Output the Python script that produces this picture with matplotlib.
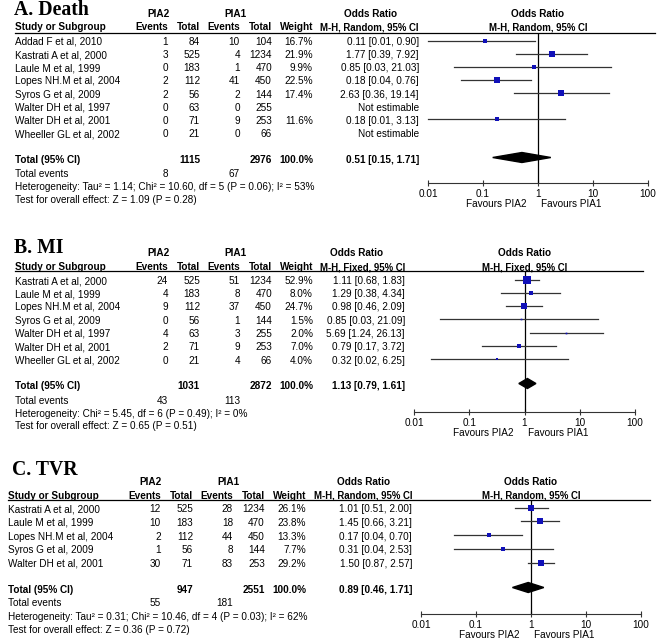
import numpy as np
import matplotlib
matplotlib.use("Agg")
import matplotlib.pyplot as plt

plt.rcParams['font.family'] = ['Liberation Sans', 'DejaVu Sans']

# region data
# A. Death
death_studies = ["Addad F et al, 2010", "Kastrati A et al, 2000", "Laule M et al, 1999",
                 "Lopes NH.M et al, 2004", "Syros G et al, 2009", "Walter DH et al, 1997",
                 "Walter DH et al, 2001", "Wheeller GL et al, 2002"]
death_e2 = [1, 3, 0, 2, 2, 0, 0, 0]
death_n2 = [84, 525, 183, 112, 56, 63, 71, 21]
death_e1 = [10, 4, 1, 41, 2, 0, 9, 0]
death_n1 = [104, 1234, 470, 450, 144, 255, 253, 66]
death_w = [16.7, 21.9, 9.9, 22.5, 17.4, np.nan, 11.6, np.nan]
death_or = [0.11, 1.77, 0.85, 0.18, 2.63, np.nan, 0.18, np.nan]
death_lo = [0.01, 0.39, 0.03, 0.04, 0.36, np.nan, 0.01, np.nan]
death_hi = [0.90, 7.92, 21.03, 0.76, 19.14, np.nan, 3.13, np.nan]
death_total = [0.51, 0.15, 1.71]
death_het = "Heterogeneity: Tau\u00b2 = 1.14; Chi\u00b2 = 10.60, df = 5 (P = 0.06); I\u00b2 = 53%"
death_test = "Test for overall effect: Z = 1.09 (P = 0.28)"

# B. MI
mi_studies = ["Kastrati A et al, 2000", "Laule M et al, 1999", "Lopes NH.M et al, 2004",
              "Syros G et al, 2009", "Walter DH et al, 1997", "Walter DH et al, 2001",
              "Wheeller GL et al, 2002"]
mi_e2 = [24, 4, 9, 0, 4, 2, 0]
mi_n2 = [525, 183, 112, 56, 63, 71, 21]
mi_e1 = [51, 8, 37, 1, 3, 9, 4]
mi_n1 = [1234, 470, 450, 144, 255, 253, 66]
mi_w = [52.9, 8.0, 24.7, 1.5, 2.0, 7.0, 4.0]
mi_or = [1.11, 1.29, 0.98, 0.85, 5.69, 0.79, 0.32]
mi_lo = [0.68, 0.38, 0.46, 0.03, 1.24, 0.17, 0.02]
mi_hi = [1.83, 4.34, 2.09, 21.09, 26.13, 3.72, 6.25]
mi_total = [1.13, 0.79, 1.61]
mi_het = "Heterogeneity: Chi\u00b2 = 5.45, df = 6 (P = 0.49); I\u00b2 = 0%"
mi_test = "Test for overall effect: Z = 0.65 (P = 0.51)"

# C. TVR
tvr_studies = ["Kastrati A et al, 2000", "Laule M et al, 1999", "Lopes NH.M et al, 2004",
               "Syros G et al, 2009", "Walter DH et al, 2001"]
tvr_e2 = [12, 10, 2, 1, 30]
tvr_n2 = [525, 183, 112, 56, 71]
tvr_e1 = [28, 18, 44, 8, 83]
tvr_n1 = [1234, 470, 450, 144, 253]
tvr_w = [26.1, 23.8, 13.3, 7.7, 29.2]
tvr_or = [1.01, 1.45, 0.17, 0.31, 1.50]
tvr_lo = [0.51, 0.66, 0.04, 0.04, 0.87]
tvr_hi = [2.00, 3.21, 0.70, 2.53, 2.57]
tvr_total = [0.89, 0.46, 1.71]
tvr_het = "Heterogeneity: Tau\u00b2 = 0.31; Chi\u00b2 = 10.46, df = 4 (P = 0.03); I\u00b2 = 62%"
tvr_test = "Test for overall effect: Z = 0.36 (P = 0.72)"

tick_vals = [0.01, 0.1, 1, 10, 100]
tick_labels = ["0.01", "0.1", "1", "10", "100"]
# endregion

W, H = 658, 640
FS = 7.2
BLUE = '#1010b8'
GREY = '#333333'

fig = plt.figure(figsize=(W / 100, H / 100), dpi=100)
bg = fig.add_axes([0, 0, 1, 1])
bg.set_xlim(0, W)
bg.set_ylim(H, 0)
bg.axis('off')


def txt(x, y, s, ha='left', bold=False, size=FS, **kw):
    bg.text(x, y, s, ha=ha, va='center', fontsize=size,
            fontweight='bold' if bold else 'normal', **kw)


def draw_panel(title, studies, e2, n2, e1, n1, w, orr, lo, hi, total, het, test, method, L):
    n = len(studies)
    rows = [L['row0'] + i * L['step'] for i in range(n)]
    c_e2, c_n2, c_e1, c_n1, c_w = L['cols']

    # title sits on its baseline so it does not get cut at the top edge
    bg.text(L['title_x'], L['title_y'], title, fontsize=14.2, fontweight='bold',
            family='Liberation Serif', va='baseline', ha='left')

    # headers
    txt(c_e2 - 10, L['h1'], "PIA2", 'center', True)
    txt(c_e1 - 5, L['h1'], "PIA1", 'center', True)
    txt(L['sx'], L['h2'], "Study or Subgroup", bold=True)
    txt(c_e2, L['h2'], "Events", 'right', True)
    txt(c_n2, L['h2'], "Total", 'right', True)
    txt(c_e1, L['h2'], "Events", 'right', True)
    txt(c_n1, L['h2'], "Total", 'right', True)
    txt(c_w, L['h2'], "Weight", 'right', True)
    hdr = "M-H, %s, 95%% CI" % method
    txt(L['orx'] - 48, L['h1'], "Odds Ratio", 'center', True)
    txt(L['orx'], L['h2'], hdr, 'right', True, size=6.9)
    bg.plot([L['lx0'], L['lx1']], [L['line'], L['line']], color='black', lw=0.9)

    # study rows
    for i in range(n):
        y = rows[i]
        txt(L['sx'], y, studies[i])
        txt(c_e2, y, str(e2[i]), 'right')
        txt(c_n2, y, str(n2[i]), 'right')
        txt(c_e1, y, str(e1[i]), 'right')
        txt(c_n1, y, str(n1[i]), 'right')
        if np.isnan(orr[i]):
            txt(L['orx'], y, "Not estimable", 'right')
        else:
            txt(c_w, y, "%.1f%%" % w[i], 'right')
            txt(L['orx'], y, "%.2f [%.2f, %.2f]" % (orr[i], lo[i], hi[i]), 'right')

    # totals
    txt(L['sx'], L['tot'], "Total (95% CI)", bold=True)
    txt(c_n2, L['tot'], str(sum(n2)), 'right', True)
    txt(c_n1, L['tot'], str(sum(n1)), 'right', True)
    txt(c_w, L['tot'], "100.0%", 'right', True)
    txt(L['orx'], L['tot'], "%.2f [%.2f, %.2f]" % tuple(total), 'right', True)
    txt(L['sx'], L['ev'], "Total events")
    txt(c_e2, L['ev'], str(sum(e2)), 'right')
    txt(c_e1, L['ev'], str(sum(e1)), 'right')
    txt(L['sx'], L['het'], het)
    txt(L['sx'], L['test'], test)

    # forest plot
    x0, x1 = L['x01'], L['x100']
    ax = fig.add_axes([x0 / W, 1 - L['axis'] / H, (x1 - x0) / W, (L['axis'] - L['line']) / H])
    ax.set_xscale('log')
    ax.set_xlim(0.01, 100)
    ax.set_ylim(L['axis'], L['line'])
    ax.patch.set_alpha(0)
    for s in ['top', 'left', 'right']:
        ax.spines[s].set_visible(False)
    ax.spines['bottom'].set_color(GREY)
    ax.spines['bottom'].set_linewidth(0.8)
    ax.set_yticks([])
    ax.set_xticks(tick_vals)
    ax.set_xticklabels(tick_labels)
    ax.minorticks_off()
    ax.tick_params(axis='x', direction='inout', length=5, width=0.8, color=GREY,
                   labelsize=FS, pad=1.5)
    ax.axvline(1, color='black', lw=0.9)

    for i in range(n):
        if np.isnan(orr[i]):
            continue
        y = rows[i] - 1.5
        ax.plot([lo[i], hi[i]], [y, y], color=GREY, lw=0.9, clip_on=False)
        side = max(1.6, 1.2 * np.sqrt(w[i]))
        ax.plot(orr[i], y, marker='s', ms=side * 0.72, color=BLUE, mec=BLUE, mew=0,
                clip_on=False, zorder=3)

    m, l, h = total
    yd = L['tot'] - 2.5
    ax.fill([l, m, h, m], [yd, yd - 5, yd, yd + 5], color='black', zorder=4)

    fy = L['axis'] + 21
    ax.annotate("Favours PIA2", xy=(1, fy), xytext=(-8, 0), textcoords='offset points',
                ha='right', va='center', fontsize=FS, annotation_clip=False)
    ax.annotate("Favours PIA1", xy=(1, fy), xytext=(2.5, 0), textcoords='offset points',
                ha='left', va='center', fontsize=FS, annotation_clip=False)
    xc = (x0 + x1) / 2
    txt(xc, L['h1'], "Odds Ratio", 'center', True)
    txt(xc, L['h2'], hdr, 'center', True, size=6.9)


layout_a = dict(title_x=14, title_y=15, h1=14, h2=27, line=33, row0=42, step=13.15,
                tot=160, ev=174, het=187, test=200, axis=183, x01=428, x100=648,
                lx0=15, lx1=655, sx=15, cols=(168, 200, 240, 272, 313), orx=419)
layout_b = dict(title_x=14, title_y=253, h1=253, h2=267, line=271, row0=281, step=13.25,
                tot=386, ev=401, het=414, test=426, axis=412, x01=414, x100=635,
                lx0=15, lx1=643, sx=15, cols=(168, 200, 240, 272, 313), orx=405)
layout_c = dict(title_x=12, title_y=475, h1=482, h2=496, line=500, row0=509, step=13.75,
                tot=590, ev=603, het=617, test=630, axis=614, x01=421, x100=641,
                lx0=8, lx1=650, sx=8, cols=(161, 193, 233, 265, 306), orx=412)

draw_panel("A. Death", death_studies, death_e2, death_n2, death_e1, death_n1, death_w,
           death_or, death_lo, death_hi, death_total, death_het, death_test, "Random", layout_a)
draw_panel("B. MI", mi_studies, mi_e2, mi_n2, mi_e1, mi_n1, mi_w,
           mi_or, mi_lo, mi_hi, mi_total, mi_het, mi_test, "Fixed", layout_b)
draw_panel("C. TVR", tvr_studies, tvr_e2, tvr_n2, tvr_e1, tvr_n1, tvr_w,
           tvr_or, tvr_lo, tvr_hi, tvr_total, tvr_het, tvr_test, "Random", layout_c)

fig.savefig("out.png", dpi=100)
